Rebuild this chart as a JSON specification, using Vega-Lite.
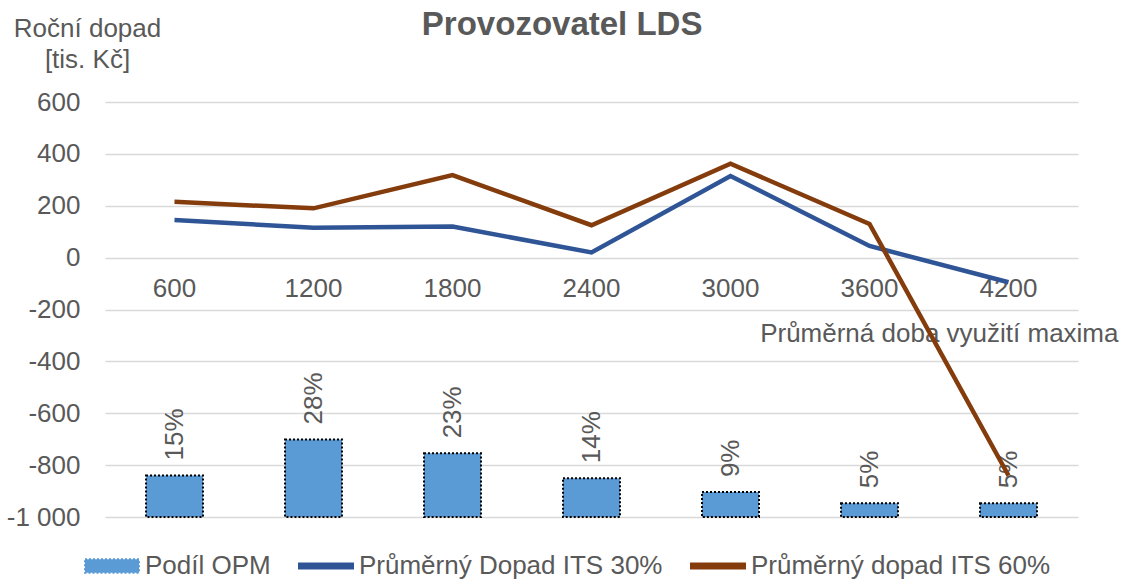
{
  "$schema": "https://vega.github.io/schema/vega-lite/v6.json",
  "autosize": "none",
  "width": 973,
  "height": 415,
  "padding": {"left": 105, "top": 102, "right": 45, "bottom": 63},
  "background": "white",
  "config": {
    "view": {"stroke": null},
    "font": "Liberation Sans"
  },
  "title": {
    "text": "Provozovatel LDS",
    "font": "Liberation Sans",
    "fontSize": 33,
    "fontWeight": "bold",
    "color": "#595959",
    "frame": "bounds",
    "anchor": "middle",
    "dy": 31
  },
  "datasets": {
    "bars": [
      {"doba": 600, "series": "Podíl OPM", "share": 0.15},
      {"doba": 1200, "series": "Podíl OPM", "share": 0.28},
      {"doba": 1800, "series": "Podíl OPM", "share": 0.23},
      {"doba": 2400, "series": "Podíl OPM", "share": 0.14},
      {"doba": 3000, "series": "Podíl OPM", "share": 0.09},
      {"doba": 3600, "series": "Podíl OPM", "share": 0.05},
      {"doba": 4200, "series": "Podíl OPM", "share": 0.05}
    ],
    "lines": [
      {"doba": 600, "series": "Průměrný Dopad ITS 30%", "value": 145},
      {"doba": 1200, "series": "Průměrný Dopad ITS 30%", "value": 115},
      {"doba": 1800, "series": "Průměrný Dopad ITS 30%", "value": 120},
      {"doba": 2400, "series": "Průměrný Dopad ITS 30%", "value": 20},
      {"doba": 3000, "series": "Průměrný Dopad ITS 30%", "value": 315},
      {"doba": 3600, "series": "Průměrný Dopad ITS 30%", "value": 45},
      {"doba": 4200, "series": "Průměrný Dopad ITS 30%", "value": -95},
      {"doba": 600, "series": "Průměrný dopad ITS 60%", "value": 215},
      {"doba": 1200, "series": "Průměrný dopad ITS 60%", "value": 190},
      {"doba": 1800, "series": "Průměrný dopad ITS 60%", "value": 318},
      {"doba": 2400, "series": "Průměrný dopad ITS 60%", "value": 125},
      {"doba": 3000, "series": "Průměrný dopad ITS 60%", "value": 362},
      {"doba": 3600, "series": "Průměrný dopad ITS 60%", "value": 130},
      {"doba": 4200, "series": "Průměrný dopad ITS 60%", "value": -840}
    ]
  },
  "encoding": {
    "x": {
      "field": "doba",
      "type": "ordinal",
      "scale": {"paddingInner": 0.59, "paddingOuter": 0.295},
      "axis": {
        "title": "Průměrná doba využití maxima",
        "titleFont": "Liberation Sans",
        "titleFontSize": 26,
        "titleFontWeight": "normal",
        "titleColor": "#595959",
        "titleX": 1013,
        "titleY": 84,
        "titleAlign": "right",
        "titleBaseline": "alphabetic",
        "labelAngle": 0,
        "labelFont": "Liberation Sans",
        "labelFontSize": 26,
        "labelColor": "#595959",
        "labelPadding": 18,
        "labelBaseline": "top",
        "domain": false,
        "ticks": false,
        "grid": false,
        "offset": -259.4
      }
    }
  },
  "layer": [
    {
      "data": {"name": "bars"},
      "mark": {"type": "bar", "stroke": "black", "strokeWidth": 2, "strokeDash": [2, 2]},
      "encoding": {
        "y": {"field": "share", "type": "quantitative", "scale": {"domain": [0, 1.5]}, "axis": null},
        "color": {
          "field": "series",
          "type": "nominal",
          "scale": {
            "domain": ["Podíl OPM", "Průměrný Dopad ITS 30%", "Průměrný dopad ITS 60%"],
            "range": ["#5B9BD5", "#2F5597", "#843C0C"]
          },
          "legend": {
            "title": null,
            "orient": "none",
            "legendX": -21,
            "legendY": 436,
            "direction": "horizontal",
            "padding": 0,
            "labelFont": "Liberation Sans",
            "labelFontSize": 26,
            "labelColor": "#595959",
            "labelOffset": 5,
            "labelLimit": 0,
            "columnPadding": 24,
            "symbolSize": 2916,
            "symbolStrokeWidth": 2,
            "encoding": {
              "symbols": {
                "shape": {"value": {"expr": "datum.value === 'Podíl OPM' ? 'M-1,-0.25H1V0.25H-1Z' : 'M-1,-0.09H1V0.09H-1Z'"}},
                "fill": {"value": {"expr": "datum.value === 'Podíl OPM' ? '#5B9BD5' : (datum.value === 'Průměrný Dopad ITS 30%' ? '#2F5597' : '#843C0C')"}},
                "stroke": {"value": {"expr": "datum.value === 'Podíl OPM' ? 'black' : 'transparent'"}},
                "strokeDash": {"value": {"expr": "datum.value === 'Podíl OPM' ? [2, 2] : []"}},
                "opacity": {"value": 1}
              }
            }
          }
        }
      }
    },
    {
      "data": {"name": "bars"},
      "mark": {"type": "text", "angle": 270, "align": "left", "baseline": "middle", "dx": 15, "font": "Liberation Sans", "fontSize": 26, "color": "#595959"},
      "encoding": {
        "y": {"field": "share", "type": "quantitative", "scale": {"domain": [0, 1.5]}, "axis": null},
        "text": {"field": "share", "format": ".0%"}
      }
    },
    {
      "data": {"name": "lines"},
      "mark": {"type": "line", "strokeWidth": 4.5},
      "encoding": {
        "y": {
          "field": "value",
          "type": "quantitative",
          "scale": {"domain": [-1000, 600], "nice": false, "zero": false},
          "axis": {
            "orient": "left",
            "values": [-1000, -800, -600, -400, -200, 0, 200, 400, 600],
            "labelExpr": "replace(replace(format(datum.value, ','), ',', ' '), '\u2212', '-')",
            "labelFont": "Liberation Sans",
            "labelFontSize": 26,
            "labelColor": "#595959",
            "labelPadding": 25,
            "domain": false,
            "ticks": false,
            "grid": true,
            "gridColor": "#D9D9D9",
            "gridWidth": 1.5,
            "title": ["Roční dopad", "[tis. Kč]"],
            "titleFont": "Liberation Sans",
            "titleFontSize": 26,
            "titleFontWeight": "normal",
            "titleColor": "#595959",
            "titleAngle": 0,
            "titleAlign": "center",
            "titleBaseline": "alphabetic",
            "titleX": -18,
            "titleY": -66,
            "titleLineHeight": 31
          }
        },
        "color": {"field": "series", "type": "nominal"}
      }
    }
  ],
  "resolve": {"scale": {"y": "independent"}}
}
